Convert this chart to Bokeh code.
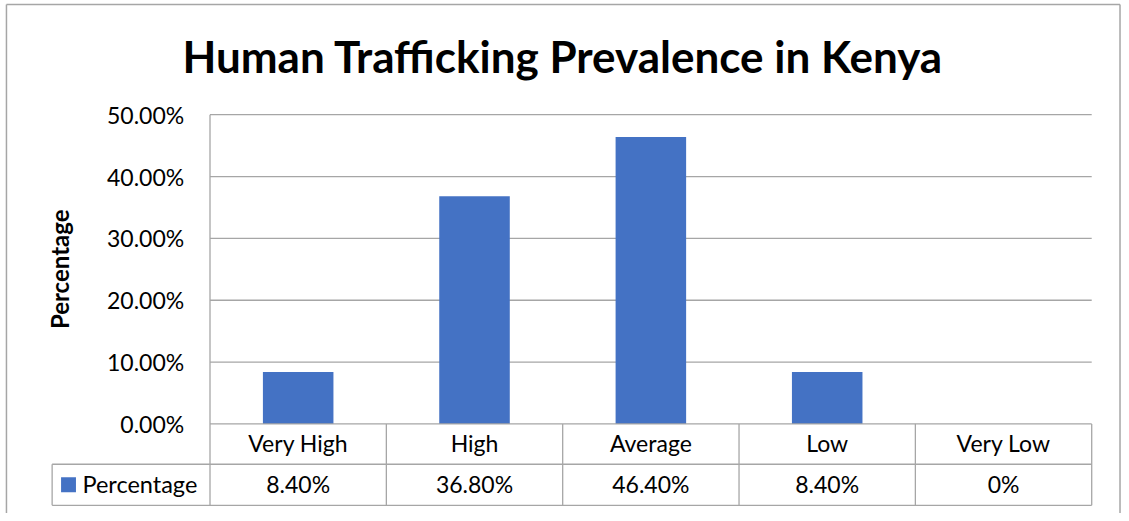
import numpy as np
from bokeh.plotting import figure
from bokeh.models import Range1d, ColumnDataSource
from bokeh.core.properties import value
from bokeh.embed import file_html
from bokeh.resources import INLINE

# ---- data ----
categories = ["Very High", "High", "Average", "Low", "Very Low"]
percentages = [0.084, 0.368, 0.464, 0.084, 0.0]
value_labels = ["8.40%", "36.80%", "46.40%", "8.40%", "0%"]
y_ticks = [0.0, 0.1, 0.2, 0.3, 0.4, 0.5]
y_tick_labels = ["0.00%", "10.00%", "20.00%", "30.00%", "40.00%", "50.00%"]
series_name = "Percentage"
title_text = "Human Trafficking Prevalence in Kenya"
y_axis_title = "Percentage"

BAR_COLOR = "#4472C4"
GRID = "#a6a6a6"
BORDER = "#a6a6a6"
FONT = "Lato"

W, H = 1121, 513
REF_W, REF_H = 1129.0, 521.0
# layout (in reference-image pixels)
PL, PR, PT, PB = 211.0, 1099.0, 116.0, 430.0
colw = (PR - PL) / len(categories)
ppu = (PB - PT) / 0.5  # pixels per unit of y

def dx(px):
    return (px - PL) / colw

def dy(py):
    return (PB - py) / ppu

p = figure(width=W, height=H, output_backend="svg", toolbar_location=None,
           x_range=Range1d(dx(0), dx(REF_W)), y_range=Range1d(dy(REF_H), dy(0)),
           min_border=0, min_border_left=0, min_border_right=0,
           min_border_top=0, min_border_bottom=0)
p.axis.visible = False
p.grid.visible = False
p.outline_line_color = None
p.background_fill_color = "white"
p.border_fill_color = "white"

n = len(categories)
xs = np.arange(n) + 0.5

# chart border (left, top, right)
p.segment(x0=[dx(6), dx(6), dx(1127.5)], x1=[dx(1127.5), dx(6), dx(1127.5)],
          y0=[dy(4), dy(4), dy(4)], y1=[dy(4), dy(REF_H + 2), dy(REF_H + 2)],
          line_color=BORDER, line_width=1.5)

# gridlines
gy = [t for t in y_ticks if t > 0]
p.segment(x0=[0] * len(gy), x1=[n] * len(gy), y0=gy, y1=gy, line_color=GRID, line_width=1.3)
# value axis line
p.segment(x0=[0], x1=[0], y0=[0], y1=[max(y_ticks)], line_color=GRID, line_width=1.3)

# bars
src = ColumnDataSource(dict(x=xs, top=percentages))
p.vbar(x="x", top="top", bottom=0, width=0.4, source=src, fill_color=BAR_COLOR, line_color=None)

# data table
row1 = dy(471.0)
row2 = dy(512.7)
leg_left = dx(52.0)
p.segment(x0=[0, leg_left, leg_left], x1=[n, n, n], y0=[0, row1, row2], y1=[0, row1, row2],
          line_color=GRID, line_width=1.3)
vx = list(range(n + 1))
p.segment(x0=vx, x1=vx, y0=[0] * len(vx), y1=[row2] * len(vx), line_color=GRID, line_width=1.3)
p.segment(x0=[leg_left], x1=[leg_left], y0=[row1], y1=[row2], line_color=GRID, line_width=1.3)

p.text(x=xs, y=[dy(449.5)] * n, text=categories, text_align="center", text_baseline="middle",
       text_font=value(FONT), text_font_size="23px", text_color="black")
p.text(x=xs, y=[dy(491)] * n, text=value_labels, text_align="center", text_baseline="middle",
       text_font=value(FONT), text_font_size="23px", text_color="black")

# legend key
p.rect(x=[dx(68.5)], y=[dy(491.8)], width=15 / colw, height=15 / ppu, fill_color=BAR_COLOR, line_color=None)
p.text(x=[dx(82.5)], y=[dy(491)], text=[series_name], text_align="left", text_baseline="middle",
       text_font=value(FONT), text_font_size="23.5px", text_color="black")

# y tick labels
p.text(x=[dx(185)] * len(y_ticks), y=y_ticks, text=y_tick_labels, text_align="right",
       text_baseline="middle", text_font=value(FONT), text_font_size="23px", text_color="black")

# y axis title
p.text(x=[dx(59)], y=[dy(273)], text=[y_axis_title], angle=np.pi / 2, text_align="center",
       text_baseline="middle", text_font=value(FONT), text_font_size="24px",
       text_font_style="bold", text_color="black")

# title
p.text(x=[dx(566.5)], y=[dy(56)], text=[title_text], text_align="center", text_baseline="middle",
       text_font=value(FONT), text_font_size="44px", text_font_style="bold", text_color="black")

open("out.html", "w").write(file_html(p, INLINE))
